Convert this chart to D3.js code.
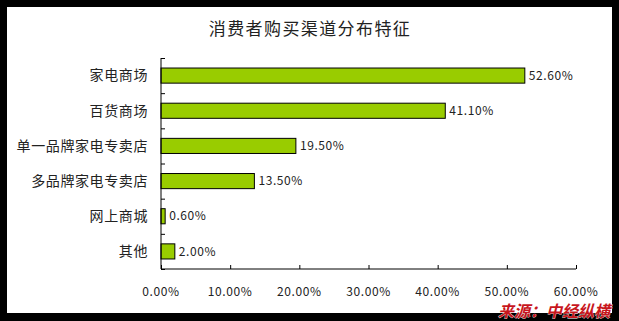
<!DOCTYPE html>
<html>
<head>
<meta charset="utf-8">
<script src="https://cdn.jsdelivr.net/npm/d3@7"></script>
<style>
  body { margin: 0; background: #000; }
  svg { display: block; }
</style>
</head>
<body>
<svg id="chart" width="619" height="321"></svg>
<script>
// data
const channels = ["家电商场", "百货商场", "单一品牌家电专卖店", "多品牌家电专卖店", "网上商城", "其他"];
const shares = [52.6, 41.1, 19.5, 13.5, 0.6, 2.0];
const xTicks = [0, 10, 20, 30, 40, 50, 60];

const svg = d3.select("#chart");

// white panel on black page
svg.append("rect")
    .attr("x", 7).attr("y", 7)
    .attr("width", 605).attr("height", 306)
    .attr("fill", "#fff");

var margin = {top: 58, left: 161, right: 43, bottom: 52};
var width = 619 - margin.left - margin.right,
    height = 321 - margin.top - margin.bottom;

const g = svg.append("g")
    .attr("transform", "translate(" + margin.left + "," + margin.top + ")");

// title
svg.append("text")
    .attr("x", 310).attr("y", 35)
    .attr("text-anchor", "middle")
    .style("font-family", "'Noto Sans CJK SC', sans-serif")
    .style("font-size", "17px")
    .style("letter-spacing", "1.4px")
    .style("fill", "#222")
    .text("消费者购买渠道分布特征");

const x = d3.scaleLinear().domain([0, 60]).range([0, width]);
const y = d3.scaleBand().domain(channels).range([0, height]).paddingInner(0.57).paddingOuter(0.285);
const yb = d3.scaleLinear().domain([0, channels.length]).range([0, height]);

// bars
g.selectAll("rect.bar")
    .data(channels)
    .enter().append("rect")
    .attr("class", "bar")
    .attr("x", 0)
    .attr("y", d => y(d))
    .attr("width", (d, i) => x(shares[i]))
    .attr("height", y.bandwidth())
    .attr("fill", "#99cc00")
    .attr("stroke", "#000")
    .attr("stroke-width", 1);

// value labels
g.selectAll("text.val")
    .data(channels)
    .enter().append("text")
    .attr("class", "val")
    .attr("x", (d, i) => x(shares[i]) + 4)
    .attr("y", d => y(d) + y.bandwidth() / 2)
    .attr("dy", "0.35em")
    .style("font-family", "'Noto Sans CJK SC', sans-serif")
    .style("font-size", "12px")
    .style("letter-spacing", "0.6px")
    .style("fill", "#222")
    .text((d, i) => shares[i].toFixed(2) + "%");

// category labels
g.selectAll("text.cat")
    .data(channels)
    .enter().append("text")
    .attr("class", "cat")
    .attr("x", -13)
    .attr("y", d => y(d) + y.bandwidth() / 2)
    .attr("dy", "0.35em")
    .attr("text-anchor", "end")
    .style("font-family", "'Noto Sans CJK SC', sans-serif")
    .style("font-size", "14px")
    .style("letter-spacing", "0.6px")
    .style("fill", "#222")
    .text(d => d);

// y axis with ticks between categories, pointing inward
const yAxis = d3.axisRight(yb).tickValues(d3.range(0, channels.length + 1)).tickSize(4).tickFormat("");
g.append("g").call(yAxis)
    .call(a => a.select(".domain").attr("d", "M0,0V" + height))
    .selectAll("line").attr("stroke", "#000");

// x axis, ticks pointing up
const xAxis = d3.axisTop(x).tickValues(xTicks).tickSize(4).tickFormat("");
g.append("g")
    .attr("transform", "translate(0," + height + ")")
    .call(xAxis)
    .call(a => a.select(".domain").attr("d", "M0,0H" + width));

g.selectAll("text.xt")
    .data(xTicks)
    .enter().append("text")
    .attr("class", "xt")
    .attr("x", d => x(d))
    .attr("y", height + 27)
    .attr("text-anchor", "middle")
    .style("font-family", "'Noto Sans CJK SC', sans-serif")
    .style("font-size", "12px")
    .style("letter-spacing", "0.6px")
    .style("fill", "#222")
    .text(d => d.toFixed(2) + "%");

// source note
svg.append("text")
    .attr("x", 610).attr("y", 317)
    .attr("text-anchor", "end")
    .style("font-family", "'Noto Sans CJK SC', sans-serif")
    .style("font-size", "16px")
    .style("font-weight", 700)
    .style("font-style", "italic")
    .style("fill", "#c8161d")
    .style("stroke", "#fff")
    .style("stroke-width", 0.6)
    .style("paint-order", "stroke")
    .text("来源：中经纵横");
</script>
</body>
</html>
